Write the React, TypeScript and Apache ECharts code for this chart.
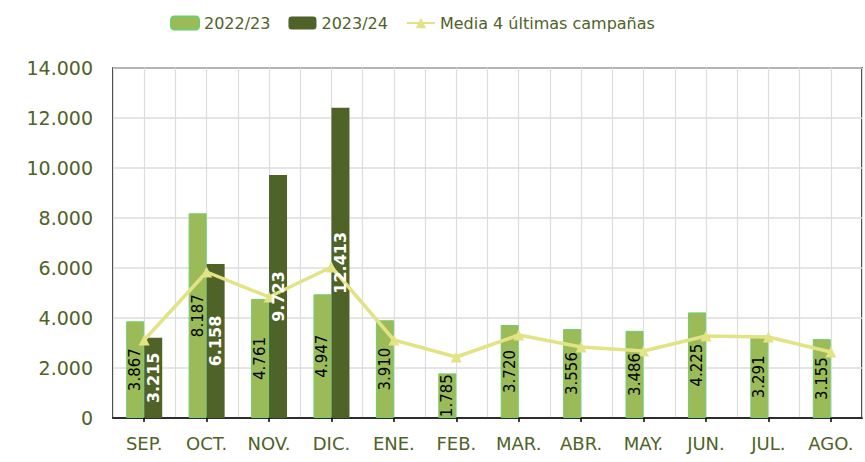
import React, { useEffect, useRef } from "react";
import * as echarts from "echarts";

const categories = ["SEP.", "OCT.", "NOV.", "DIC.", "ENE.", "FEB.", "MAR.", "ABR.", "MAY.", "JUN.", "JUL.", "AGO."];
const campaign2223 = [3867, 8187, 4761, 4947, 3910, 1785, 3720, 3556, 3486, 4225, 3291, 3155];
const campaign2324: (number | null)[] = [3215, 6158, 9723, 12413, null, null, null, null, null, null, null, null];
const media4 = [3120, 5840, 4840, 6040, 3120, 2440, 3320, 2840, 2680, 3280, 3240, 2640];
const seriesNames = ["2022/23", "2023/24", "Media 4 últimas campañas"];

const fmt = (v: number) => String(Math.round(v)).replace(/\B(?=(\d{3})+(?!\d))/g, ".");

const OLIVE = "#4F6228";
const LIGHT = "#9BBB59";
const LINE = "#E2E384";
const FONT = "DejaVu Sans";

export default function App() {
  const ref = useRef<HTMLDivElement>(null);
  useEffect(() => {
    if (!ref.current) return;
    const chart = echarts.init(ref.current, undefined, { renderer: "svg" });
    chart.setOption({
      animation: false,
      backgroundColor: "#fff",
      textStyle: { fontFamily: FONT },
      legend: {
        data: seriesNames,
        left: 165,
        top: 10,
        itemWidth: 28,
        itemHeight: 13,
        itemGap: 18,
        textStyle: { color: OLIVE, fontSize: 16, fontFamily: FONT },
      },
      grid: {
        left: 113,
        right: 3,
        top: 68,
        bottom: 44,
        show: true,
        borderColor: "#000",
        borderWidth: 1.5,
        containLabel: false,
      },
      xAxis: [
        {
          type: "category",
          data: categories,
          axisLine: { show: true, lineStyle: { color: "#000", width: 1.5 } },
          axisTick: { show: true, alignWithLabel: true, length: 4, lineStyle: { color: "#000", width: 1.5 } },
          axisLabel: { color: OLIVE, fontSize: 18, fontFamily: FONT, margin: 16 },
          splitLine: { show: false },
        },
        {
          type: "value",
          min: 0,
          max: 24,
          interval: 1,
          position: "top",
          axisLine: { show: false },
          axisTick: { show: false },
          axisLabel: { show: false },
          splitLine: { show: true, lineStyle: { color: "#DDDDDD", width: 1.2 } },
        },
        {
          type: "category",
          data: categories,
          show: false,
        },
      ],
      yAxis: {
        type: "value",
        min: 0,
        max: 14000,
        interval: 2000,
        axisLine: { show: false },
        axisTick: { show: false },
        axisLabel: { color: OLIVE, fontSize: 19, fontFamily: FONT, margin: 20, formatter: (v: number) => fmt(v) },
        splitLine: { show: true, lineStyle: { color: "#DDDDDD", width: 1.5 } },
      },
      series: [
        {
          name: seriesNames[0],
          type: "bar",
          xAxisIndex: 0,
          data: campaign2223,
          barWidth: 18,
          barGap: "0%",
          z: 2,
          itemStyle: { color: LIGHT, borderColor: "#72CC6A", borderWidth: 1 },
        },
        {
          name: seriesNames[1],
          type: "bar",
          xAxisIndex: 0,
          data: campaign2324,
          barWidth: 18,
          barGap: "0%",
          z: 2,
          itemStyle: { color: OLIVE },
        },
        {
          name: seriesNames[2],
          type: "line",
          xAxisIndex: 0,
          data: media4,
          z: 3,
          symbol: "triangle",
          symbolSize: 11,
          lineStyle: { color: LINE, width: 3.5 },
          itemStyle: { color: LINE },
        },
        {
          name: "labels1",
          type: "bar",
          xAxisIndex: 2,
          data: campaign2223,
          barWidth: 18,
          barGap: "0%",
          z: 4,
          silent: true,
          itemStyle: { color: "rgba(0,0,0,0)" },
          label: {
            show: true,
            position: "inside",
            rotate: 90,
            color: "#000",
            fontSize: 15,
            fontFamily: FONT,
            formatter: (p: any) => fmt(p.value),
          },
        },
        {
          name: "labels2",
          type: "bar",
          xAxisIndex: 2,
          data: campaign2324,
          barWidth: 18,
          barGap: "0%",
          z: 4,
          silent: true,
          itemStyle: { color: "rgba(0,0,0,0)" },
          label: {
            show: true,
            position: "inside",
            rotate: 90,
            color: "#fff",
            fontSize: 16,
            fontWeight: "bold",
            fontFamily: FONT,
            formatter: (p: any) => (p.value == null ? "" : fmt(p.value)),
          },
        },
      ],
    });
    return () => chart.dispose();
  }, []);
  return (
    <div
      ref={ref}
      style={{ position: "fixed", left: 0, top: 0, width: 865, height: 462 }}
    />
  );
}
